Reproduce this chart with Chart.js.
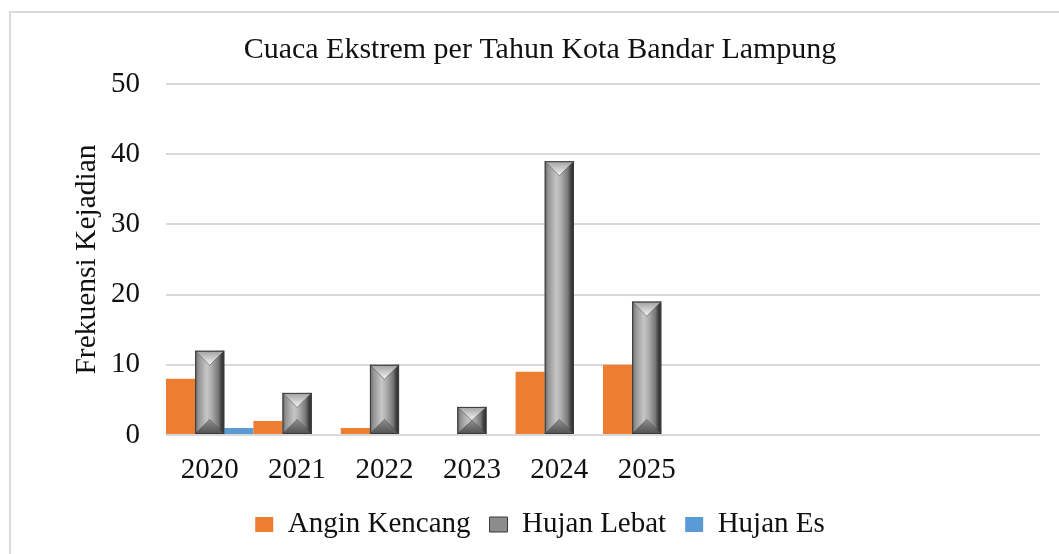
<!DOCTYPE html>
<html>
<head>
<meta charset="utf-8">
<script src="https://cdn.jsdelivr.net/npm/chart.js@4/dist/chart.umd.min.js"></script>
<style>
  html, body { margin: 0; padding: 0; background: #fff; overflow: hidden; }
  .wrap { position: relative; width: 1059px; height: 554px; }
  .frame { position: absolute; left: 9px; top: 11px; width: 1100px; height: 600px; border: 2px solid #d9d9d9; }
  #chart { position: absolute; left: 0; top: 0; }
</style>
</head>
<body>
<div class="wrap">
  <div class="frame"></div>
  <canvas id="chart" width="1059" height="554"></canvas>
</div>
<script>
// data
const years = ['2020', '2021', '2022', '2023', '2024', '2025'];
const emptySlots = 4; // the category axis keeps going past 2025 with no data
const anginKencang = [8, 2, 1, 0, 9, 10];
const hujanLebat = [12, 6, 10, 4, 39, 19];
const hujanEs = [1, 0, 0, 0, 0, 0];
const yTicks = [0, 10, 20, 30, 40, 50];

const labels = years.concat(Array(emptySlots).fill(''));
const serif = "'Liberation Serif', 'Times New Roman', serif";

// draws the bevelled look of the grey bars on top of the plain bars
const bevelPlugin = {
  id: 'bevel',
  afterDatasetsDraw(chart) {
    const meta = chart.getDatasetMeta(1);
    const ctx = chart.ctx;
    meta.data.forEach(function(el) {
      const p = el.getProps(['x', 'y', 'base', 'width'], true);
      const x0 = p.x - p.width / 2;
      const x1 = p.x + p.width / 2;
      const top = Math.min(p.y, p.base);
      const bot = Math.max(p.y, p.base);
      const w = x1 - x0;
      const h = bot - top;
      if (h < 1) return;
      const b = Math.min(w / 2, h / 2);
      const cx = p.x;

      ctx.save();
      // body
      const g = ctx.createLinearGradient(x0, 0, x1, 0);
      g.addColorStop(0, '#666666');
      g.addColorStop(0.12, '#949494');
      g.addColorStop(0.4, '#c6c6c6');
      g.addColorStop(0.55, '#b0b0b0');
      g.addColorStop(0.8, '#767676');
      g.addColorStop(0.9, '#404040');
      g.addColorStop(1, '#303030');
      ctx.fillStyle = g;
      ctx.fillRect(x0, top, w, h);

      // top facet
      const gt = ctx.createLinearGradient(0, top, 0, top + b);
      gt.addColorStop(0, '#a0a0a0');
      gt.addColorStop(1, '#f6f6f6');
      ctx.beginPath();
      ctx.moveTo(x0, top);
      ctx.lineTo(x1, top);
      ctx.lineTo(cx, top + b);
      ctx.closePath();
      ctx.fillStyle = gt;
      ctx.fill();

      // bottom facet
      const gb = ctx.createLinearGradient(0, bot, 0, bot - b);
      gb.addColorStop(0, '#505050');
      gb.addColorStop(1, '#8e8e8e');
      ctx.beginPath();
      ctx.moveTo(x0, bot);
      ctx.lineTo(x1, bot);
      ctx.lineTo(cx, bot - b);
      ctx.closePath();
      ctx.fillStyle = gb;
      ctx.fill();

      // facet edges
      ctx.strokeStyle = 'rgba(60, 60, 60, 0.5)';
      ctx.lineWidth = 1;
      ctx.beginPath();
      ctx.moveTo(x0, top); ctx.lineTo(cx, top + b); ctx.lineTo(x1, top);
      ctx.moveTo(x0, bot); ctx.lineTo(cx, bot - b); ctx.lineTo(x1, bot);
      ctx.stroke();

      ctx.strokeStyle = '#3a3a3a';
      ctx.strokeRect(x0 + 0.5, top + 0.5, w - 1, h - 1);
      ctx.restore();
    });
  }
};

const ctx = document.getElementById('chart').getContext('2d');

const chart = new Chart(ctx, {
  type: 'bar',
  data: {
    labels: labels,
    datasets: [
      {
        label: 'Angin Kencang',
        data: anginKencang,
        backgroundColor: '#ED7D31',
        borderWidth: 0
      },
      {
        label: 'Hujan Lebat',
        data: hujanLebat,
        backgroundColor: '#8c8c8c',
        borderColor: '#3a3a3a',
        borderWidth: 1
      },
      {
        label: 'Hujan Es',
        data: hujanEs,
        backgroundColor: '#5B9BD5',
        borderWidth: 0
      }
    ]
  },
  options: {
    responsive: false,
    animation: false,
    categoryPercentage: 1,
    barPercentage: 1,
    datasets: {
      bar: { inflateAmount: 0 }
    },
    layout: {
      padding: { left: 40, right: 19, top: 11, bottom: 5 }
    },
    plugins: {
      title: {
        display: true,
        text: 'Cuaca Ekstrem per Tahun Kota Bandar Lampung',
        color: '#111',
        font: { family: serif, size: 30, weight: 'normal' },
        padding: { top: 21, bottom: 16 }
      },
      legend: {
        position: 'bottom',
        labels: {
          color: '#111',
          font: { family: serif, size: 29 },
          boxWidth: 18,
          boxHeight: 15,
          padding: 19
        }
      },
      tooltip: { enabled: false }
    },
    scales: {
      x: {
        grid: { display: false },
        border: { display: false },
        afterFit: function(scale) {
          scale.height = 56;
        },
        ticks: {
          color: '#111',
          font: { family: serif, size: 29 },
          padding: 10,
          maxRotation: 0,
          autoSkip: false
        }
      },
      y: {
        min: yTicks[0],
        max: yTicks[yTicks.length - 1],
        afterBuildTicks: function(scale) {
          scale.ticks = yTicks.map(function(v) { return { value: v }; });
        },
        afterFit: function(scale) {
          scale.width = 126;
        },
        grid: { color: '#d9d9d9', lineWidth: 2, drawTicks: false },
        border: { display: false },
        ticks: {
          color: '#111',
          font: { family: serif, size: 29 },
          padding: 26
        },
        title: {
          display: true,
          text: 'Frekuensi Kejadian',
          color: '#111',
          font: { family: serif, size: 29.5 },
          padding: { top: 30, bottom: 0 }
        }
      }
    }
  },
  plugins: [bevelPlugin]
});
</script>
</body>
</html>
